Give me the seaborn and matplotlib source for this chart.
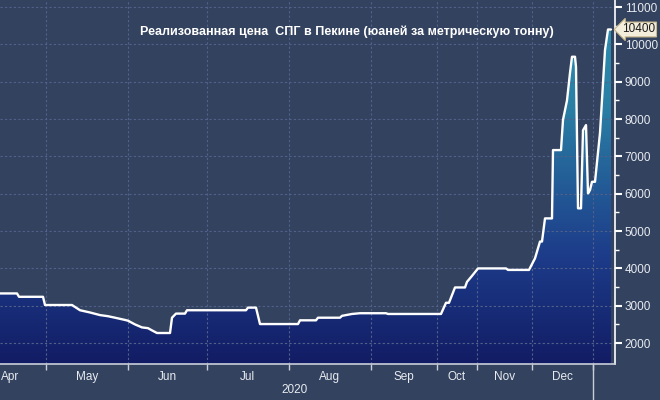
import numpy as np
import matplotlib
matplotlib.use("Agg")
import matplotlib.pyplot as plt
from matplotlib.colors import LinearSegmentedColormap
import matplotlib.transforms as mtransforms
import seaborn as sns

# chart position (Bloomberg-style compressed axis units) and price, yuan / tonne
pos = [0, 17, 19, 43, 45, 72, 80, 90, 100, 108, 115, 125, 128, 135, 142, 148,
       152, 157, 170, 172, 176, 185, 187, 246, 248, 256, 260, 298, 300, 316,
       318, 340, 342, 352, 360, 386, 388, 441, 446, 449, 455, 465, 467, 472,
       478, 506, 508, 529, 535, 540, 542, 545, 552, 553, 561, 563, 567, 570,
       572, 575, 576, 578, 581, 583, 586, 588, 590, 592, 595, 600, 605, 608, 611]
price = [3330, 3330, 3240, 3240, 3020, 3020, 2880, 2820, 2750, 2720, 2680, 2620,
         2600, 2500, 2420, 2400, 2340, 2270, 2270, 2680, 2790, 2790, 2880, 2880,
         2950, 2950, 2510, 2510, 2610, 2610, 2680, 2680, 2730, 2780, 2800, 2800,
         2780, 2780, 3080, 3080, 3490, 3490, 3640, 3800, 4000, 4000, 3960, 3960,
         4270, 4720, 4720, 5340, 5340, 7170, 7170, 7980, 8500, 9240, 9670, 9670,
         9400, 5610, 5610, 7700, 7840, 6010, 6100, 6320, 6320, 7630, 9850, 10400,
         10400]

month_edges = [45.7, 127.7, 206.7, 288.7, 370.7, 437.3, 476.7, 532.3, 592.7]
month_label_pos = [10, 86.7, 167, 247.7, 329.7, 404, 457, 504.5, 562.5]
month_labels = ["Apr", "May", "Jun", "Jul", "Aug", "Sep", "Oct", "Nov", "Dec"]
year_label = "2020"
title = "Реализованная цена  СПГ в Пекине (юаней за метрическую тонну)"

bg = "#33425f"
sns.set_theme(style="dark")
plt.rcParams["font.family"] = ["Liberation Sans", "DejaVu Sans"]

fig = plt.figure(figsize=(6.6, 4.0), dpi=100, facecolor=bg)
ax = fig.add_axes([0, 0.09, 615 / 660, 0.91])
ax.set_facecolor(bg)

xmin, xmax = 0, 615
ymin, ymax = 1440, 11190
ax.set_xlim(xmin, xmax)
ax.set_ylim(ymin, ymax)

# gradient fill under the line (navy at the bottom, teal towards the top)
cmap = LinearSegmentedColormap.from_list(
    "fill", [(0.0, "#121c64"), (0.3, "#1d3c8a"), (0.7, "#2a7ea4"), (1.0, "#2e92b2")])
grad = np.linspace(0, 1, 256).reshape(-1, 1)
img = ax.imshow(grad, cmap=cmap, aspect="auto", origin="lower",
                extent=[xmin, xmax, ymin, ymax], zorder=1)
poly = ax.fill_between(pos, price, ymin, color="none", lw=0)
clip = poly.get_paths()[0]
img.set_clip_path(clip, transform=ax.transData)

sns.lineplot(x=pos, y=price, ax=ax, color="white", lw=1.7, zorder=3, sort=False)

# grid
for e in month_edges:
    ax.axvline(e, color="#52618a", lw=0.8, ls=(0, (2, 2)), zorder=2)
for v in range(2000, 12000, 1000):
    ax.axhline(v, color="#52618a", lw=0.8, ls=(0, (2, 2)), zorder=2)

# spines
for s in ["top", "left"]:
    ax.spines[s].set_visible(False)
ax.spines["right"].set_color("white")
ax.spines["right"].set_linewidth(1.2)
ax.spines["bottom"].set_color("#c9ced9")
ax.spines["bottom"].set_linewidth(1.2)

# y axis on the right
ax.yaxis.tick_right()
ax.set_yticks(range(2000, 12000, 1000))
ax.set_yticks(range(2500, 11500, 1000), minor=True)
ax.tick_params(axis="y", which="major", length=5, width=1.5, color="white",
               labelcolor="#e8ebf0", labelsize=8.5, pad=2)
ax.tick_params(axis="y", which="minor", length=3, width=1, color="white")
ax.tick_params(axis="y", which="both", right=True, left=False, direction="out")

# x axis: ticks at month edges, labels centred in months
ax.set_xticks(month_edges)
ax.set_xticklabels([""] * len(month_edges))
ax.set_xticks(month_label_pos, minor=True)
ax.set_xticklabels(month_labels, minor=True)
ax.tick_params(axis="x", which="major", length=4, width=1, color="#c9ced9",
               direction="out", bottom=True)
ax.tick_params(axis="x", which="minor", length=0, labelcolor="#e8ebf0",
               labelsize=8.5, pad=5)

# year separator and label
trans = mtransforms.blended_transform_factory(ax.transData, ax.transAxes)
ax.plot([month_edges[-1]] * 2, [0, -0.1], color="#c9ced9", lw=1,
        transform=trans, clip_on=False)
ax.text(295, -0.072, year_label, transform=trans, color="#e8ebf0",
        fontsize=8.5, ha="center", va="center")

# title
ax.text(347, 10335, title, color="white", fontsize=9, fontweight="bold",
        ha="center", va="center", zorder=5)

# last value tag
ax.annotate(f"{price[-1]:.0f}", xy=(1.0, price[-1]),
            xycoords=("axes fraction", "data"), xytext=(5, 0),
            textcoords="offset points", color="#1a1a1a", fontsize=8.5,
            ha="left", va="center", annotation_clip=False,
            bbox=dict(boxstyle="larrow,pad=0.12", fc="#f3eddc", ec="#c9b98a", lw=0.8))

fig.savefig("out.png", dpi=100, facecolor=bg)
